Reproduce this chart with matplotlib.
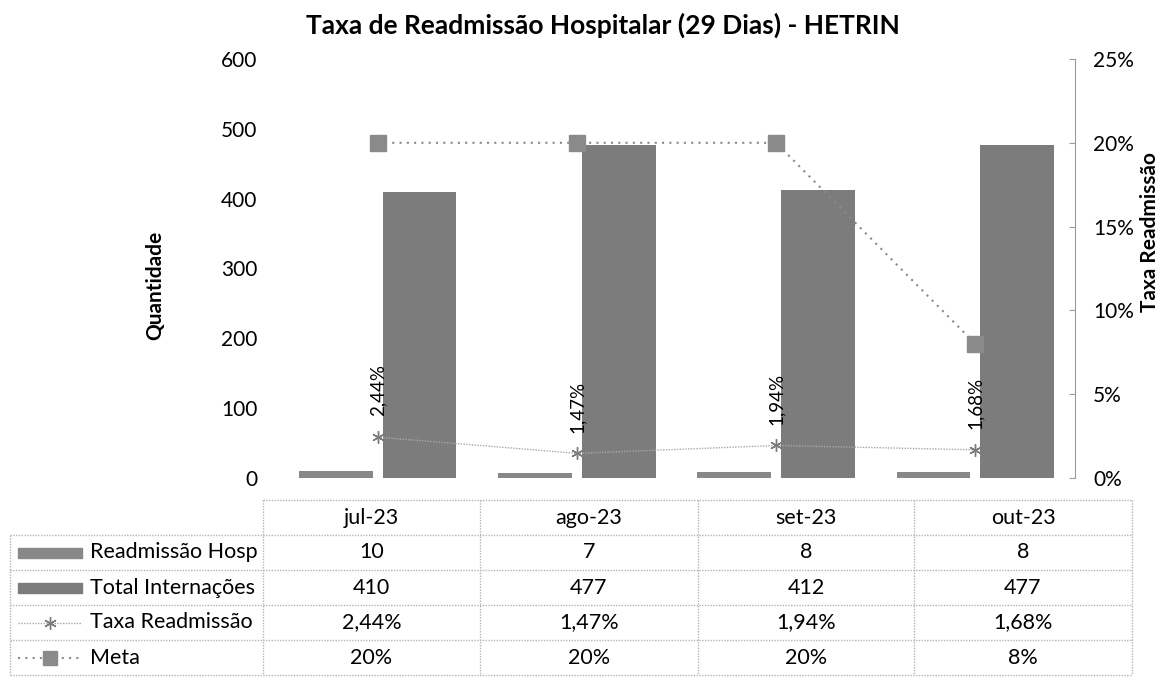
import numpy as np
import matplotlib
matplotlib.use('Agg')
import matplotlib.pyplot as plt
from matplotlib.patches import Rectangle

# dados
meses = ['jul-23', 'ago-23', 'set-23', 'out-23']
readmissao = [10, 7, 8, 8]
internacoes = [410, 477, 412, 477]
taxa = [0.0244, 0.0147, 0.0194, 0.0168]
meta = [0.20, 0.20, 0.20, 0.08]
series = ['Readmissão Hosp', 'Total Internações', 'Taxa Readmissão', 'Meta']

plt.rcParams['font.family'] = ['Lato', 'DejaVu Sans']

W, H = 1165, 677
cor_bar1 = '#888888'
cor_bar2 = '#7c7c7c'
cor_linha = '#8a8a8a'
cor_borda = '#b5b5b5'


def fig_box(x0, y0, x1, y1):
    # caixa em pixels (origem no topo) -> fracao da figura
    return [x0 / W, 1 - y1 / H, (x1 - x0) / W, (y1 - y0) / H]


def pct(v, casas=2):
    return ('%.*f%%' % (casas, v * 100)).replace('.', ',')


fig = plt.figure(figsize=(W / 100, H / 100), dpi=100)

ax = fig.add_axes(fig_box(278, 59, 1075, 478))
x = np.arange(len(meses))
ax.bar(x - 0.21, readmissao, width=0.37, color=cor_bar1, zorder=2)
ax.bar(x + 0.21, internacoes, width=0.37, color=cor_bar2, zorder=2)
ax.set_xlim(-0.5, len(meses) - 0.5)
ax.set_ylim(0, 600)
ax.set_yticks(range(0, 601, 100))
ax.set_xticks([])
for s in ax.spines.values():
    s.set_visible(False)
ax.tick_params(axis='y', length=0, pad=15, labelsize=15)

ax2 = ax.twinx()
ax2.set_ylim(0, 0.25)
ticks2 = np.arange(0, 0.2501, 0.05)
ax2.set_yticks(ticks2)
ax2.set_yticklabels([pct(v, 0) for v in ticks2])
for k in ['top', 'bottom', 'left']:
    ax2.spines[k].set_visible(False)
ax2.spines['right'].set_linestyle((0, (1, 1)))
ax2.spines['right'].set_color('#9a9a9a')
ax2.tick_params(axis='y', direction='in', length=4, color='#9a9a9a', pad=13, labelsize=15)

ax2.plot(x, meta, color=cor_linha, lw=1.5, linestyle=(0, (1, 2.5)),
         marker='s', markersize=11, markerfacecolor=cor_linha,
         markeredgecolor=cor_linha, zorder=3)
ax2.plot(x, taxa, color='#a8a8a8', lw=1, linestyle=(0, (1, 1)),
         marker=(6, 2, 0), markersize=9, markeredgecolor='#7a7a7a',
         markeredgewidth=1, zorder=3)
for xi, t in zip(x, taxa):
    ax2.annotate(pct(t), (xi, t), xytext=(0, 15), textcoords='offset points',
                 rotation=90, ha='center', va='bottom', fontsize=13.5)

fig.text(155 / W, 1 - 285 / H, 'Quantidade', rotation=90, fontsize=15,
         fontweight='bold', ha='center', va='center')
fig.text(1150 / W, 1 - 232 / H, 'Taxa Readmissão', rotation=90, fontsize=15,
         fontweight='bold', ha='center', va='center')
fig.text(603 / W, 1 - 25 / H, 'Taxa de Readmissão Hospitalar (29 Dias) - HETRIN',
         fontsize=19, fontweight='bold', ha='center', va='center')

# tabela de dados
tab = fig.add_axes([0, 0, 1, 1], zorder=-1)
tab.set_xlim(0, W)
tab.set_ylim(H, 0)
tab.axis('off')
cols = [263, 480, 698, 914, 1132]
y_top, row_h = 500, 35
rows = [y_top + i * row_h for i in range(len(series) + 2)]
bl = dict(color=cor_borda, lw=1, linestyle=(0, (1, 1)))

tab.plot([cols[0], cols[-1]], [rows[0], rows[0]], **bl)
for r in rows[1:]:
    tab.plot([10, cols[-1]], [r, r], **bl)
for c in cols:
    tab.plot([c, c], [rows[0], rows[-1]], **bl)
tab.plot([10, 10], [rows[1], rows[-1]], **bl)

for j, m in enumerate(meses):
    xc = (cols[j] + cols[j + 1]) / 2
    tab.text(xc, rows[0] + row_h / 2, m, ha='center', va='center', fontsize=15.5)
    valores = [str(readmissao[j]), str(internacoes[j]), pct(taxa[j]), pct(meta[j], 0)]
    for i, v in enumerate(valores):
        tab.text(xc, rows[i + 1] + row_h / 2, v, ha='center', va='center', fontsize=15.5)

for i, nome in enumerate(series):
    yc = rows[i + 1] + row_h / 2
    tab.text(90, yc, nome, ha='left', va='center', fontsize=15.5)
    if i < 2:
        tab.add_patch(Rectangle((18, yc - 5), 64, 10,
                                color=[cor_bar1, cor_bar2][i]))
    elif i == 2:
        tab.plot([18, 82], [yc, yc], color='#a8a8a8', lw=1, linestyle=(0, (1, 1)))
        tab.plot([50], [yc], marker=(6, 2, 0), markersize=9,
                 markeredgecolor='#7a7a7a', markeredgewidth=1)
    else:
        tab.plot([18, 82], [yc, yc], color=cor_linha, lw=1.5, linestyle=(0, (1, 2.5)))
        tab.plot([50], [yc], marker='s', markersize=10, color=cor_linha)

fig.savefig('out.png', dpi=100)
